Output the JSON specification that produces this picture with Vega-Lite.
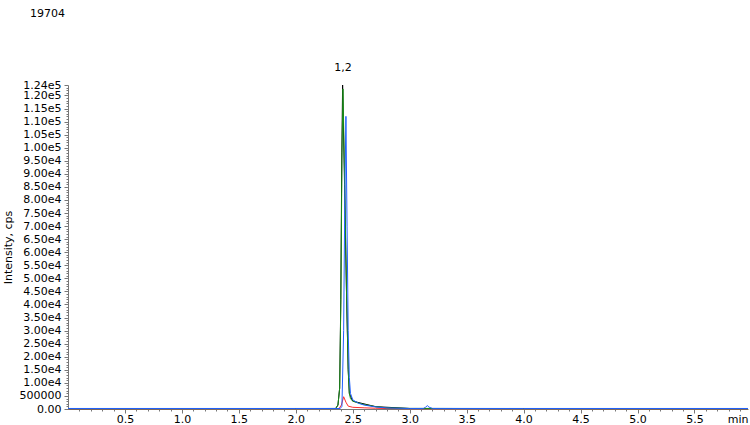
{
  "$schema": "https://vega.github.io/schema/vega-lite/v6.json",
  "width": 680,
  "height": 324,
  "autosize": {"type": "none"},
  "padding": {"left": 68, "top": 85, "right": 2, "bottom": 16},
  "background": "white",
  "title": {"text": "19704", "anchor": "start", "frame": "group", "baseline": "top", "dx": -38, "offset": 43, "fontSize": 11, "fontWeight": "normal", "font": "DejaVu Sans", "color": "#000"},
  "config": {"view": {"stroke": null}, "axis": {"labelFont": "DejaVu Sans", "labelFontSize": 11, "labelColor": "#000", "titleFont": "DejaVu Sans", "titleFontSize": 11, "titleFontWeight": "normal", "grid": false, "domainColor": "#777", "tickColor": "#777"}},
  "datasets": {
    "tr": [
      {"s": "black", "t": 0, "v": 150}, {"s": "black", "t": 2.35, "v": 200}, {"s": "black", "t": 2.37, "v": 1500}, {"s": "black", "t": 2.385, "v": 8000}, {"s": "black", "t": 2.395, "v": 42000}, {"s": "black", "t": 2.404, "v": 98000}, {"s": "black", "t": 2.411, "v": 124000}, {"s": "black", "t": 2.428, "v": 86000}, {"s": "black", "t": 2.445, "v": 45000}, {"s": "black", "t": 2.46, "v": 15000}, {"s": "black", "t": 2.47, "v": 6000}, {"s": "black", "t": 2.5, "v": 3000}, {"s": "black", "t": 2.7, "v": 900}, {"s": "black", "t": 3.0, "v": 200}, {"s": "black", "t": 5.97, "v": 150},

      {"s": "red", "t": 0, "v": 120}, {"s": "red", "t": 1.0, "v": 120}, {"s": "red", "t": 2.0, "v": 120}, {"s": "red", "t": 2.38, "v": 180}, {"s": "red", "t": 2.4, "v": 1500}, {"s": "red", "t": 2.42, "v": 4700}, {"s": "red", "t": 2.44, "v": 2600}, {"s": "red", "t": 2.46, "v": 1100}, {"s": "red", "t": 2.5, "v": 650}, {"s": "red", "t": 2.6, "v": 450}, {"s": "red", "t": 2.7, "v": 300}, {"s": "red", "t": 2.8, "v": 160}, {"s": "red", "t": 3.0, "v": 120}, {"s": "red", "t": 5.97, "v": 120},

      {"s": "green", "t": 0, "v": 150}, {"s": "green", "t": 1.0, "v": 150}, {"s": "green", "t": 2.0, "v": 150}, {"s": "green", "t": 2.35, "v": 200}, {"s": "green", "t": 2.37, "v": 1500}, {"s": "green", "t": 2.385, "v": 8000}, {"s": "green", "t": 2.395, "v": 40000}, {"s": "green", "t": 2.405, "v": 95000}, {"s": "green", "t": 2.414, "v": 122500}, {"s": "green", "t": 2.43, "v": 85000}, {"s": "green", "t": 2.445, "v": 45000}, {"s": "green", "t": 2.46, "v": 15000}, {"s": "green", "t": 2.47, "v": 6000}, {"s": "green", "t": 2.48, "v": 4000}, {"s": "green", "t": 2.5, "v": 3000}, {"s": "green", "t": 2.55, "v": 2300}, {"s": "green", "t": 2.6, "v": 1700}, {"s": "green", "t": 2.7, "v": 900}, {"s": "green", "t": 2.8, "v": 450}, {"s": "green", "t": 3.0, "v": 220}, {"s": "green", "t": 4.0, "v": 150}, {"s": "green", "t": 5.97, "v": 150},

      {"s": "blue", "t": 0, "v": 200}, {"s": "blue", "t": 2.0, "v": 200}, {"s": "blue", "t": 2.39, "v": 200}, {"s": "blue", "t": 2.405, "v": 1000}, {"s": "blue", "t": 2.42, "v": 30000}, {"s": "blue", "t": 2.43, "v": 80000}, {"s": "blue", "t": 2.44, "v": 112000}, {"s": "blue", "t": 2.45, "v": 70000}, {"s": "blue", "t": 2.46, "v": 30000}, {"s": "blue", "t": 2.47, "v": 12000}, {"s": "blue", "t": 2.48, "v": 6000}, {"s": "blue", "t": 2.5, "v": 3500}, {"s": "blue", "t": 2.55, "v": 2200}, {"s": "blue", "t": 2.6, "v": 1500}, {"s": "blue", "t": 2.7, "v": 800}, {"s": "blue", "t": 2.8, "v": 400}, {"s": "blue", "t": 3.0, "v": 200}, {"s": "blue", "t": 3.12, "v": 220}, {"s": "blue", "t": 3.14, "v": 700}, {"s": "blue", "t": 3.155, "v": 1300}, {"s": "blue", "t": 3.17, "v": 700}, {"s": "blue", "t": 3.2, "v": 220}, {"s": "blue", "t": 4.0, "v": 200}, {"s": "blue", "t": 5.97, "v": 200}
    ],
    "ann": [{"t": 2.414, "v": 124000, "label": "1,2"}],
    "minor": [{"t": 0, "v": 0}]
  },
  "resolve": {"scale": {"x": "independent", "y": "independent"}, "axis": {"x": "independent", "y": "independent"}},
  "layer": [
    {
      "data": {"name": "minor"},
      "mark": {"type": "point", "opacity": 0},
      "encoding": {
        "x": {"field": "t", "type": "quantitative", "scale": {"domain": [0, 5.97], "nice": false, "zero": false}, "axis": {"orient": "bottom", "values": [0.1,0.2,0.3,0.4,0.6,0.7,0.8,0.9,1.1,1.2,1.3,1.4,1.6,1.7,1.8,1.9,2.1,2.2,2.3,2.4,2.6,2.7,2.8,2.9,3.1,3.2,3.3,3.4,3.6,3.7,3.8,3.9,4.1,4.2,4.3,4.4,4.6,4.7,4.8,4.9,5.1,5.2,5.3,5.4,5.6,5.7,5.8,5.9], "labels": false, "domain": false, "tickSize": 2, "title": null}},
        "y": {"field": "v", "type": "quantitative", "scale": {"domain": [0, 124000], "nice": false}, "axis": {"orient": "left", "values": [1000,2000,3000,4000,6000,7000,8000,9000,11000,12000,13000,14000,16000,17000,18000,19000,21000,22000,23000,24000,26000,27000,28000,29000,31000,32000,33000,34000,36000,37000,38000,39000,41000,42000,43000,44000,46000,47000,48000,49000,51000,52000,53000,54000,56000,57000,58000,59000,61000,62000,63000,64000,66000,67000,68000,69000,71000,72000,73000,74000,76000,77000,78000,79000,81000,82000,83000,84000,86000,87000,88000,89000,91000,92000,93000,94000,96000,97000,98000,99000,101000,102000,103000,104000,106000,107000,108000,109000,111000,112000,113000,114000,116000,117000,118000,119000,121000,122000,123000], "labels": false, "domain": false, "tickSize": 2, "title": null}}
      }
    },
    {
      "encoding": {
        "x": {"field": "t", "type": "quantitative", "scale": {"domain": [0, 5.97], "nice": false, "zero": false}, "axis": {"orient": "bottom", "values": [0.5,1.0,1.5,2.0,2.5,3.0,3.5,4.0,4.5,5.0,5.5,5.97], "labelExpr": "datum.value > 5.9 ? 'min' : format(datum.value, '.1f')", "labelAlign": {"expr": "datum.value > 5.9 ? 'right' : 'center'"}, "tickOpacity": {"expr": "datum.value > 5.9 ? 0 : 1"}, "tickSize": 4, "labelPadding": 0, "title": null, "labelFlush": false, "labelOverlap": false}},
        "y": {"field": "v", "type": "quantitative", "scale": {"domain": [0, 124000], "nice": false}, "axis": {"orient": "left", "values": [0,5000,10000,15000,20000,25000,30000,35000,40000,45000,50000,55000,60000,65000,70000,75000,80000,85000,90000,95000,100000,105000,110000,115000,120000,124000], "labelExpr": "datum.value == 0 ? '0.00' : datum.value == 5000 ? '500000' : replace(format(datum.value, '.2e'), '+', '')", "tickSize": 4, "labelPadding": 3, "title": "Intensity, cps", "titlePadding": 6, "labelOverlap": false, "labelFlush": false}}
      },
      "layer": [
        {
          "data": {"name": "tr"},
          "transform": [{"filter": "datum.s == 'black'"}],
          "mark": {"type": "line", "color": "#000000", "strokeWidth": 1}
        },
        {
          "data": {"name": "tr"},
          "transform": [{"filter": "datum.s == 'red'"}],
          "mark": {"type": "line", "color": "#ff2a2a", "strokeWidth": 1}
        },
        {
          "data": {"name": "tr"},
          "transform": [{"filter": "datum.s == 'green'"}],
          "mark": {"type": "line", "color": "#188c18", "strokeWidth": 1}
        },
        {
          "data": {"name": "tr"},
          "transform": [{"filter": "datum.s == 'blue'"}],
          "mark": {"type": "line", "color": "#2060ff", "strokeWidth": 1}
        },
        {
          "data": {"name": "ann"},
          "mark": {"type": "text", "font": "DejaVu Sans", "fontSize": 11, "color": "#000", "dy": -17},
          "encoding": {"text": {"field": "label"}}
        }
      ]
    }
  ]
}
